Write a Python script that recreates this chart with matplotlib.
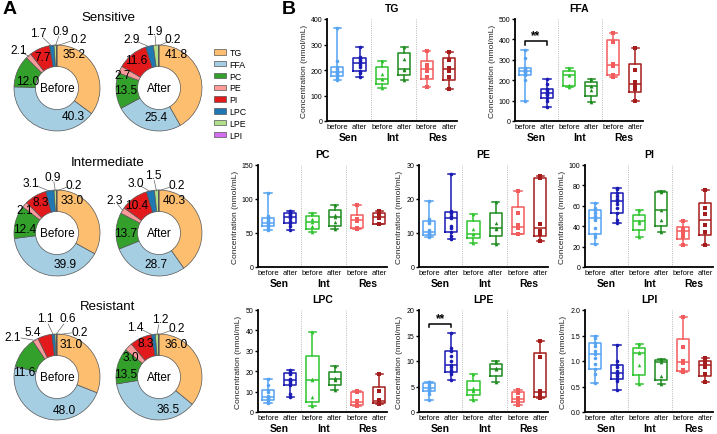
import numpy as np
import matplotlib
matplotlib.use("Agg")
import matplotlib.pyplot as plt
from matplotlib.patches import Patch
from matplotlib.ticker import FormatStrFormatter, MultipleLocator
from matplotlib import font_manager

W, H = 717, 435

# ---- panel A: lipid composition (% of total) ----
lipids = ["TG", "FFA", "PC", "PE", "PI", "LPC", "LPE", "LPI"]
sen_before = [35.2, 40.3, 12.0, 2.1, 7.7, 1.7, 0.9, 0.2]
sen_after = [41.8, 25.4, 13.5, 2.7, 11.6, 2.9, 1.9, 0.2]
int_before = [33.0, 39.9, 12.4, 2.1, 8.3, 3.1, 0.9, 0.2]
int_after = [40.3, 28.7, 13.7, 2.3, 10.4, 3.0, 1.5, 0.2]
res_before = [31.0, 48.0, 11.6, 2.1, 5.4, 1.1, 0.6, 0.2]
res_after = [36.0, 36.5, 13.5, 3.0, 8.3, 1.4, 1.2, 0.2]

# ---- panel B: concentrations (nmol/mL) ----
# order: Sen before, Sen after, Int before, Int after, Res before, Res after
tg = [[159, 170, 178, 183, 187, 191, 196, 203, 211, 235, 363],
      [172, 190, 198, 210, 220, 227, 232, 240, 246, 252, 289],
      [129, 163, 165, 185, 237],
      [162, 200, 205, 243, 289],
      [133, 173, 195, 209, 221, 276],
      [124, 171, 196, 208, 238, 270]]
ffa = [[98, 200, 226, 235, 238, 243, 248, 252, 259, 310, 350],
       [68, 100, 114, 128, 133, 137, 142, 150, 158, 183, 207],
       [166, 176, 225, 227, 259],
       [93, 151, 171, 173, 207],
       [218, 225, 272, 278, 386, 432],
       [98, 157, 175, 189, 252, 357]]
pc = [[55, 58, 61, 62, 64, 65, 67, 69, 72, 75, 109],
      [54, 60, 64, 68, 72, 74, 76, 78, 80, 82, 83],
      [51, 60, 66, 70, 79],
      [56, 66, 73, 77, 91],
      [56, 57.3, 67, 71, 71, 91],
      [63, 63.5, 72, 76, 78, 83]]
pe = [[8.8, 9.1, 9.3, 9.6, 10, 10.3, 10.8, 13, 13.5, 14, 19.4],
      [8.3, 9, 10.3, 11.5, 12, 14.3, 15, 16, 16.3, 16.6, 27.5],
      [7.2, 9.6, 9.8, 11.3, 15.5],
      [6.9, 11.3, 11.6, 12.9, 19.1],
      [9.6, 9.7, 11.4, 12.4, 15.9, 22.4],
      [7.6, 9.6, 10.6, 12.6, 26.1, 26.8]]
pi = [[22.9, 29, 32.7, 38, 46, 48, 50, 53, 55.6, 58, 62.4],
      [43.5, 46, 52.6, 58, 62, 64.4, 67, 70, 72.9, 76, 77.8],
      [29.7, 43, 45, 45.5, 55.6],
      [34.3, 46, 55.6, 73.3, 74.5],
      [21.2, 29, 33.6, 37, 37.3, 45],
      [21.2, 34.8, 41, 51.8, 58, 75.5]]
lpc = [[4.4, 5, 5.7, 6.2, 7, 7.3, 8, 9.8, 10.9, 13, 16.3],
       [7.3, 9, 13.4, 14, 15, 15.5, 16, 18.5, 19, 19.8, 20.8],
       [2.8, 7.3, 15.5, 16, 39.1],
       [10.9, 15.5, 16, 16.5, 22.5],
       [2.9, 3.6, 4.5, 5.5, 9.6, 10.3],
       [3.7, 4.6, 5.0, 5.8, 10.5, 18.4]]
lpe = [[2.4, 3.6, 4.1, 4.3, 4.5, 4.7, 5, 5.3, 5.6, 5.8, 5.9],
       [6.2, 7.5, 7.9, 8.3, 8.8, 9.3, 10, 11, 11.9, 12.5, 15.4],
       [2.3, 4.2, 4.4, 4.8, 7.5],
       [5.9, 8.4, 8.5, 8.7, 10],
       [1.3, 2.2, 2.4, 2.8, 3.7, 4.4],
       [2.8, 3.1, 3.6, 4.2, 10.8, 14.0]]
lpi = [[0.57, 0.75, 0.85, 0.95, 1.05, 1.13, 1.2, 1.3, 1.36, 1.45, 1.49],
       [0.43, 0.6, 0.64, 0.7, 0.74, 0.77, 0.8, 0.88, 0.93, 1.0, 1.31],
       [0.54, 0.93, 1.15, 1.17, 1.34],
       [0.54, 0.7, 0.98, 1.01, 1.03],
       [0.79, 0.82, 0.96, 1.0, 1.28, 1.87],
       [0.59, 0.74, 0.88, 0.96, 0.98, 1.05]]

groups = ["Sen", "Int", "Res"]
conds = ["before", "after"]

# ---- styling ----
plt.rcParams['font.family'] = ['Liberation Sans', 'DejaVu Sans']
names = {f.name for f in font_manager.fontManager.ttflist}
if "Liberation Sans Narrow" in names:
    narrow, narrow_size = ['Liberation Sans Narrow', 'Liberation Sans'], 6.0
else:
    narrow, narrow_size = ['Liberation Sans', 'DejaVu Sans'], 5.4

pie_colors = ["#fdbf6f", "#a6cee3", "#33a02c", "#fb9a99", "#e31a1c",
              "#1f78b4", "#b2df8a", "#d46ef0"]
box_colors = ["#55a3f2", "#1a1ab4", "#2ec42e", "#1e8a1e", "#f25c5c", "#a51c1c"]
box_markers = ["o", "o", "^", "^", "s", "s"]

fig = plt.figure(figsize=(W / 100, H / 100), dpi=100)


def rect(x0, y0, x1, y1):
    return [x0 / W, 1 - y1 / H, (x1 - x0) / W, (y1 - y0) / H]


# ---------------- panel A ----------------
R = 43.0
HALF = 70.0

def donut(cx, cy, vals, center_txt, label_xy):
    s = HALF / R
    ax = fig.add_axes(rect(cx - HALF, cy - HALF, cx + HALF, cy + HALF))
    ax.pie(vals, colors=pie_colors, startangle=90, counterclock=False,
           radius=1.0, wedgeprops=dict(width=0.5, edgecolor="#555555", linewidth=0.5))
    ax.set_xlim(-s, s)
    ax.set_ylim(-s, s)
    ax.set_aspect("equal")
    ax.axis("off")
    ax.text(0, 0, center_txt, ha="center", va="center", fontsize=8.5)
    tot = float(sum(vals))
    cum = np.cumsum([0] + list(vals))
    for i, v in enumerate(vals):
        lx, ly = label_xy[i]
        mid = np.deg2rad(90 - 360 * (cum[i] + v / 2) / tot)
        if i >= 3 and i != 4 and np.hypot(lx, ly) > 1.05:
            ex, ey = np.cos(mid) * 0.98, np.sin(mid) * 0.98
            tx, ty = lx + (ex - lx) * 0.35, ly + (ey - ly) * 0.35
            ax.plot([ex, tx], [ey, ty], color="#666666", lw=0.5)
        ax.text(lx, ly, f"{v:.1f}", ha="center", va="center", fontsize=8.6)
    return ax


# label positions in units of the outer radius
lab_sb = [(0.39, 0.78), (0.38, -0.65), (-0.68, 0.17), (-0.90, 0.88), (-0.33, 0.72),
          (-0.43, 1.27), (0.09, 1.33), (0.50, 1.15)]
lab_sa = [(0.41, 0.78), (-0.06, -0.68), (-0.78, -0.04), (-0.84, 0.30), (-0.53, 0.64),
          (-0.63, 1.13), (-0.10, 1.33), (0.33, 1.13)]
lab_ib = [(0.36, 0.76), (0.18, -0.72), (-0.76, 0.10), (-0.76, 0.54), (-0.37, 0.72),
          (-0.62, 1.16), (-0.09, 1.31), (0.38, 1.12)]
lab_ia = [(0.36, 0.76), (-0.06, -0.72), (-0.78, 0.0), (-1.04, 0.77), (-0.53, 0.66),
          (-0.55, 1.16), (-0.14, 1.36), (0.41, 1.12)]
lab_rb = [(0.32, 0.76), (0.18, -0.77), (-0.76, 0.12), (-1.02, 0.94), (-0.56, 1.05),
          (-0.27, 1.37), (0.26, 1.37), (0.52, 1.05)]
lab_ra = [(0.39, 0.76), (0.21, -0.74), (-0.78, 0.08), (-0.65, 0.47), (-0.30, 0.78),
          (-0.55, 1.17), (0.02, 1.35), (0.41, 1.13)]

rows = [("Sensitive", 89, sen_before, sen_after, lab_sb, lab_sa),
        ("Intermediate", 234, int_before, int_after, lab_ib, lab_ia),
        ("Resistant", 378, res_before, res_after, lab_rb, lab_ra)]
for title, cy, vb, va_, lb, la in rows:
    donut(57, cy, vb, "Before", lb)
    donut(159, cy, va_, "After", la)
    fig.text(108 / W, 1 - (cy - 71) / H, title, ha="center", va="center", fontsize=9.5)

handles = [Patch(facecolor=c, edgecolor="#555555", linewidth=0.5) for c in pie_colors]
fig.legend(handles, lipids, loc="upper left", bbox_to_anchor=(214 / W, 1 - 49 / H),
           frameon=False, fontsize=6.3, handlelength=1.4, handleheight=0.6,
           handletextpad=0.4, labelspacing=0.32, borderpad=0, borderaxespad=0)

fig.text(3 / W, 1 - 10 / H, "A", fontsize=14, fontweight="bold", va="center")
fig.text(282 / W, 1 - 10 / H, "B", fontsize=14, fontweight="bold", va="center")


# ---------------- panel B ----------------
def box_panel(name, data, x0, y0, x1, y1, top, step, fmt, sig=None):
    ax = fig.add_axes(rect(x0, y0, x1, y1))
    pos = np.arange(1, 7)
    stats = []
    for v in data:
        v = np.asarray(v, float)
        q1, med, q3 = np.percentile(v, [25, 50, 75], method="weibull")
        stats.append(dict(med=med, q1=q1, q3=q3, whislo=v.min(), whishi=v.max(), fliers=[]))
    b = ax.bxp(stats, positions=pos, widths=0.55, capwidths=0.32, showfliers=False,
               manage_ticks=False)
    for i, c in enumerate(box_colors):
        for art in [b["boxes"][i], b["medians"][i], b["whiskers"][2 * i],
                    b["whiskers"][2 * i + 1], b["caps"][2 * i], b["caps"][2 * i + 1]]:
            art.set_color(c)
            art.set_linewidth(1.1)
        v = np.asarray(data[i], float)
        ax.plot(np.full(len(v), pos[i]), v, ls="none", marker=box_markers[i],
                color=c, ms=2.6, mew=0)
    for xd in (2.5, 4.5):
        ax.axvline(xd, color="#b0b0b0", lw=0.6, ls=(0, (1.2, 1.5)))
    ax.set_xlim(0.55, 6.35)
    ax.set_ylim(0, top)
    ax.yaxis.set_major_locator(MultipleLocator(step))
    ax.yaxis.set_major_formatter(FormatStrFormatter(fmt))
    for sp in ("top", "right"):
        ax.spines[sp].set_visible(False)
    for sp in ("left", "bottom"):
        ax.spines[sp].set_linewidth(1.3)
    ax.tick_params(axis="y", length=2.5, width=1, labelsize=5, pad=1)
    ax.set_xticks(pos)
    ax.set_xticklabels(conds * 3, fontsize=narrow_size, family=narrow)
    ax.tick_params(axis="x", length=0, pad=1.5)
    for g, label in enumerate(groups):
        ax.annotate(label, xy=(1.5 + 2 * g, 0), xycoords=("data", "axes fraction"),
                    xytext=(0, -11.5), textcoords="offset points", ha="center",
                    va="center", fontsize=7.5, fontweight="bold")
    ax.set_title(name, fontsize=7.5, fontweight="bold", pad=6)
    ax.set_ylabel("Concentration (nmol/mL)", fontsize=6, labelpad=2, color="#222222")
    if sig is not None:
        ylo, yhi = sig
        ax.plot([1, 1, 2, 2], [ylo, yhi, yhi, ylo], color="black", lw=1.1)
        ax.text(1.5, yhi, "**", ha="center", va="bottom", fontsize=8.5, fontweight="bold")
    return ax


box_panel("TG", tg, 327, 20, 457, 122, 400, 100, "%d")
box_panel("FFA", ffa, 515, 20, 643, 122, 500, 100, "%d", sig=(375, 390))
box_panel("PC", pc, 258, 166, 387, 268, 150, 50, "%d")
box_panel("PE", pe, 419, 166, 548, 268, 30, 10, "%d")
box_panel("PI", pi, 585, 166, 713, 268, 100, 20, "%d")
box_panel("LPC", lpc, 258, 311, 387, 413, 50, 10, "%d")
box_panel("LPE", lpe, 419, 311, 548, 413, 20, 5, "%d", sig=(16.6, 17.2))
box_panel("LPI", lpi, 585, 311, 713, 413, 2.0, 0.5, "%.1f")

fig.savefig("out.png", dpi=100)
